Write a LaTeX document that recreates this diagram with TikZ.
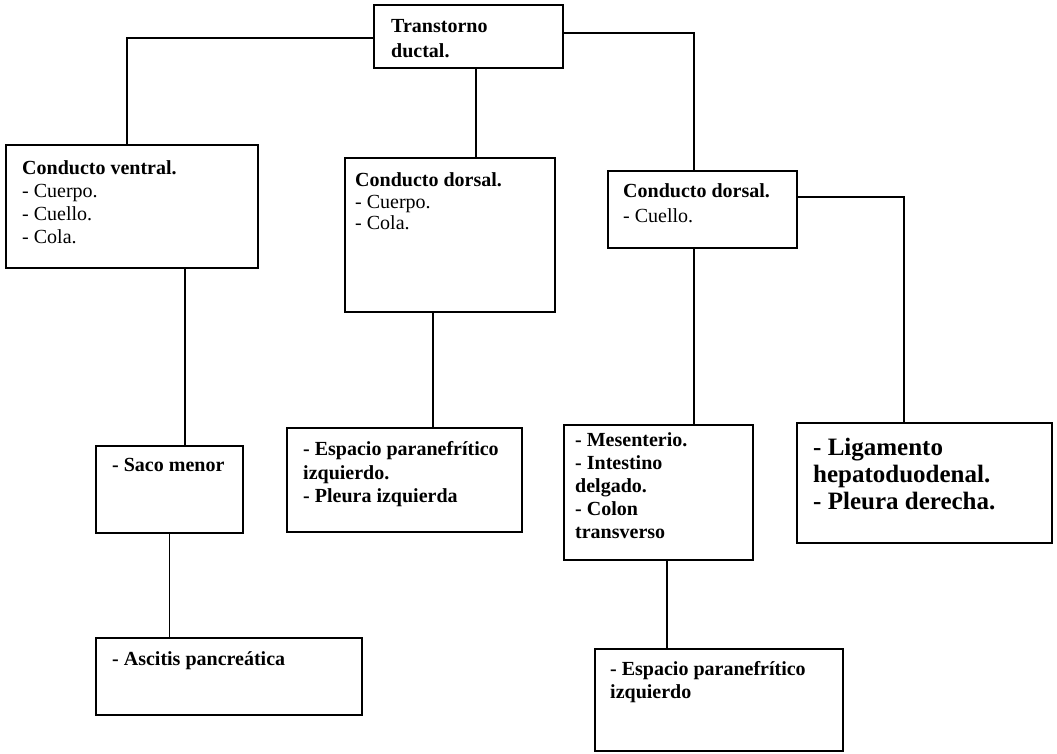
\documentclass[tikz,border=0pt]{standalone}
\usepackage{fontspec}
\setmainfont{Liberation Serif}

\begin{document}
\begin{tikzpicture}[x=1pt, y=-1pt,
    caja/.style={draw, line width=1.5pt, inner sep=0pt},
    linea/.style={line width=1.5pt},
    texto/.style={anchor=north west, inner sep=0pt, align=left, font=\fontsize{20}{23}\selectfont}]

    \useasboundingbox (0,0) rectangle (1057,754);

    % Boxes
    \node[caja, minimum width=189pt, minimum height=63pt] (tra) at (468.5,36.5) {};
    \node[caja, minimum width=252pt, minimum height=123pt] (ven) at (132,206.5) {};
    \node[caja, minimum width=210pt, minimum height=154pt] (dor) at (450,235) {};
    \node[caja, minimum width=189pt, minimum height=77pt] (cue) at (702.5,209.5) {};
    \node[caja, minimum width=147pt, minimum height=87pt] (saco) at (169.5,489.5) {};
    \node[caja, minimum width=235pt, minimum height=104pt] (espi) at (404.5,480) {};
    \node[caja, minimum width=189pt, minimum height=135pt] (mes) at (658.5,492.5) {};
    \node[caja, minimum width=255pt, minimum height=120pt] (lig) at (924.5,483) {};
    \node[caja, minimum width=266pt, minimum height=77pt] (asc) at (229,676.5) {};
    \node[caja, minimum width=248pt, minimum height=102pt] (espd) at (719,700) {};

    % Texts
    \node[texto, font=\fontsize{20}{25}\selectfont\bfseries] (traT) at (391,19.5) {Transtorno\\ductal.};
    \node[texto] (venT) at (22,160.5) {\textbf{Conducto ventral.}\\- Cuerpo.\\- Cuello.\\- Cola.};
    \node[texto, font=\fontsize{20}{21.5}\selectfont] (dorT) at (355,172.5) {\textbf{Conducto dorsal.}\\- Cuerpo.\\- Cola.};
    \node[texto, font=\fontsize{20}{25}\selectfont] (cueT) at (623,183.5) {\textbf{Conducto dorsal.}\\- Cuello.};
    \node[texto, font=\fontsize{20}{23}\selectfont\bfseries] (sacoT) at (112,458.5) {- Saco menor};
    \node[texto, font=\fontsize{20}{23.5}\selectfont\bfseries] (espiT) at (303,441.5) {- Espacio paranefrítico\\izquierdo.\\- Pleura izquierda};
    \node[texto, font=\fontsize{20}{23}\selectfont\bfseries] (mesT) at (575,432.5) {- Mesenterio.\\- Intestino\\delgado.\\- Colon\\transverso};
    \node[texto, font=\fontsize{25}{27}\selectfont\bfseries] (ligT) at (813,438) {- Ligamento\\hepatoduodenal.\\- Pleura derecha.};
    \node[texto, font=\fontsize{20}{23}\selectfont\bfseries] (ascT) at (112,651.5) {- Ascitis pancreática};
    \node[texto, font=\fontsize{20}{23}\selectfont\bfseries] (espdT) at (610,661.5) {- Espacio paranefrítico\\izquierdo};

    % Connectors from the top box
    \draw[linea] ([yshift=-1.5pt]tra.west) -| ([xshift=-5pt]ven.north);
    \draw[linea] ([yshift=3.5pt]tra.east) -| ([xshift=-8.5pt]cue.north);
    \draw[linea] ([xshift=7.5pt]tra.south) -- ([xshift=7.5pt]tra.south |- dor.north);
    % Left branch
    \draw[linea] ([xshift=53pt]ven.south) -- ([xshift=53pt]ven.south |- saco.north);
    \draw[linea] (saco.south) -- (saco.south |- asc.north);
    % Middle branch
    \draw[linea] ([xshift=-17pt]dor.south) -- ([xshift=-17pt]dor.south |- espi.north);
    % Right branch
    \draw[linea] ([xshift=-8.5pt]cue.south) -- ([xshift=-8.5pt]cue.south |- mes.north);
    \draw[linea] ([yshift=12.5pt]cue.east) -| ([xshift=-20.5pt]lig.north);
    \draw[linea] ([xshift=8.5pt]mes.south) -- ([xshift=8.5pt]mes.south |- espd.north);
\end{tikzpicture}
\end{document}
